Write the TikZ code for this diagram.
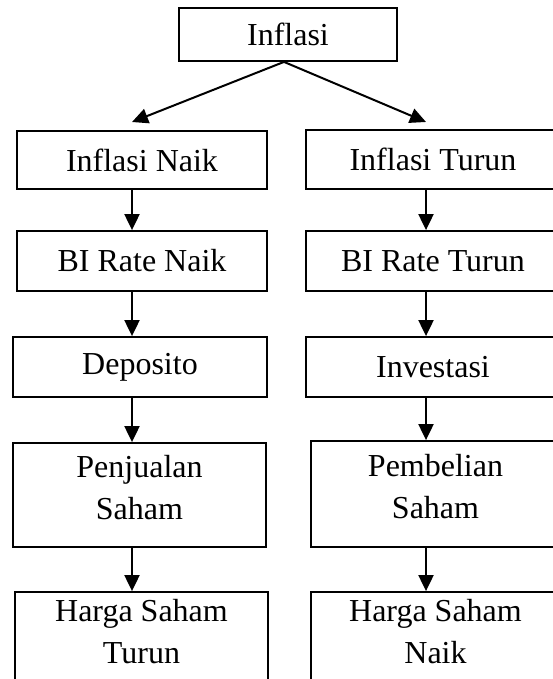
\documentclass[tikz,border=0pt]{standalone}
\usepackage{fontspec}
\setmainfont{Liberation Serif}
\usetikzlibrary{arrows.meta}
\newcommand{\lowpad}[1]{\rule[-#1]{0pt}{0pt}}
\begin{document}
\begin{tikzpicture}[x=1pt,y=1pt,
  box/.style={draw, line width=1.8pt, inner sep=0pt, align=center,
    font=\fontsize{32}{42}\selectfont},
  arr/.style={-{Triangle[length=16pt,width=15pt]}, line width=2pt}]
\useasboundingbox (0,0) rectangle (552,-679);
\node[box, minimum width=218pt, minimum height=53pt] (inf) at (288,-34.5) {Inflasi};
% left column
\node[box, minimum width=250pt, minimum height=58pt] (r1l) at (142,-160) {Inflasi Naik};
\node[box, minimum width=250pt, minimum height=60pt] (r2l) at (142,-261) {BI Rate Naik};
\node[box, minimum width=254pt, minimum height=60pt] (r3l) at (140,-367) {Deposito};
\node[box, minimum width=253pt, minimum height=104pt] (r4l) at (139.5,-495) {Penjualan\\Saham\lowpad{16pt}};
\node[box, minimum width=253pt, minimum height=104pt] (r5l) at (141.5,-644) {Harga Saham\\Turun\lowpad{26pt}};
% right column
\node[box, minimum width=254pt, minimum height=59pt] (r1r) at (433,-159.5) {Inflasi Turun};
\node[box, minimum width=254pt, minimum height=60pt] (r2r) at (433,-261) {BI Rate Turun};
\node[box, minimum width=254pt, minimum height=60pt] (r3r) at (433,-367) {Investasi};
\node[box, minimum width=249pt, minimum height=106pt] (r4r) at (435.5,-494) {Pembelian\\Saham\lowpad{16pt}};
\node[box, minimum width=249pt, minimum height=104pt] (r5r) at (435.5,-644) {Harga Saham\\Naik\lowpad{26pt}};
% connectors
\coordinate (cl) at (132,0);
\coordinate (cr) at (426,0);
\coordinate (tl) at (132,-122);
\coordinate (tr) at (426,-122);
\draw[arr] ([xshift=-4pt]inf.south) -- (tl);
\draw[arr] ([xshift=-4pt]inf.south) -- (tr);
\draw[arr] (r1l.south -| cl) -- (r2l.north -| cl);
\draw[arr] (r2l.south -| cl) -- (r3l.north -| cl);
\draw[arr] (r3l.south -| cl) -- (r4l.north -| cl);
\draw[arr] (r4l.south -| cl) -- (r5l.north -| cl);
\draw[arr] (r1r.south -| cr) -- (r2r.north -| cr);
\draw[arr] (r2r.south -| cr) -- (r3r.north -| cr);
\draw[arr] (r3r.south -| cr) -- (r4r.north -| cr);
\draw[arr] (r4r.south -| cr) -- (r5r.north -| cr);
\end{tikzpicture}
\end{document}
